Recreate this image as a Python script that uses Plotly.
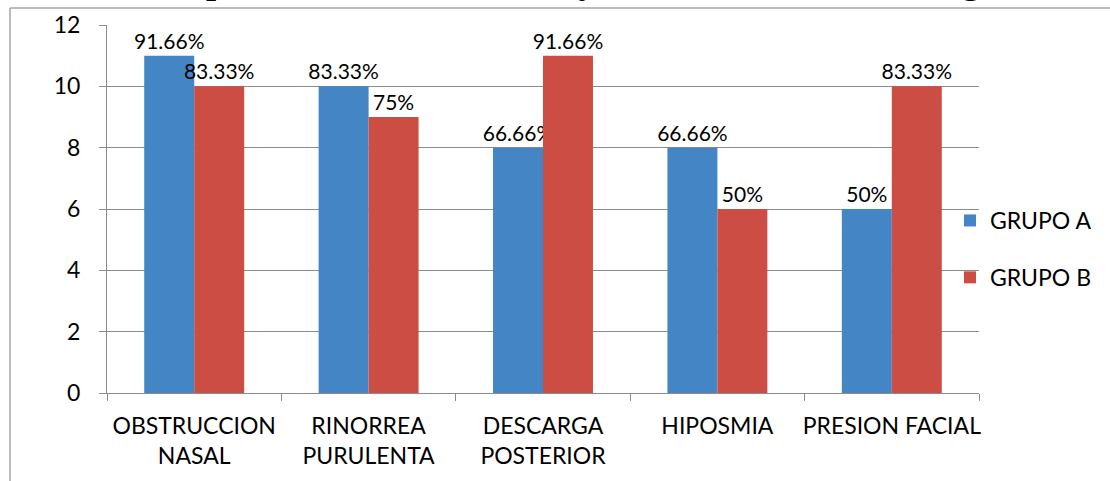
import plotly.graph_objects as go

categories = ["OBSTRUCCION<br>NASAL", "RINORREA<br>PURULENTA", "DESCARGA<br>POSTERIOR", "HIPOSMIA", "PRESION FACIAL"]
grupo_a = [11, 10, 8, 8, 6]
grupo_b = [10, 9, 11, 6, 10]
labels_a = ["91.66%", "83.33%", "66.66%", "66.66%", "50%"]
labels_b = ["83.33%", "75%", "91.66%", "50%", "83.33%"]
title_text = "Gráfico: Comparativo de criterios Mayores al momento del diagnóstico"

W, H = 1110, 481
L, R, T, B = 107, 131, 25, 88
pw, ph = W - L - R, H - T - B

def px_x(x):
    return (x - L) / pw

def px_y(y):
    return (H - B - y) / ph

FONT = "Lato"
fig = go.Figure()
fig.add_trace(go.Bar(x=categories, y=grupo_a, name="GRUPO A", legendgroup="a",
                     marker=dict(color="#4485c6", line=dict(width=0)),
                     text=labels_a, textposition="outside", cliponaxis=False,
                     constraintext="none",
                     textfont=dict(family=FONT, size=21, color="#000000")))
fig.add_trace(go.Bar(x=categories, y=grupo_b, name="GRUPO B", legendgroup="b",
                     marker=dict(color="#cb4d44", line=dict(width=0)),
                     text=labels_b, textposition="outside", cliponaxis=False,
                     constraintext="none",
                     textfont=dict(family=FONT, size=21, color="#000000")))

fig.update_layout(
    width=W, height=H,
    margin=dict(l=L, r=R, t=T, b=B, autoexpand=False),
    paper_bgcolor="white", plot_bgcolor="white",
    barmode="group", bargap=0.427, bargroupgap=0,
    font=dict(family=FONT, size=21, color="#000000"),
    showlegend=True,
    legend=dict(x=px_x(950), y=px_y(199), xanchor="left", yanchor="top",
                font=dict(family=FONT, size=23, color="#000000"),
                tracegroupgap=24, bgcolor="rgba(0,0,0,0)", itemwidth=30),
)
fig.update_yaxes(range=[0, 12], dtick=2, showgrid=True, gridcolor="#8c8c8c", gridwidth=1,
                 showline=True, linecolor="#8c8c8c", linewidth=1,
                 ticks="outside", ticklen=7, tickcolor="#8c8c8c",
                 tickfont=dict(family=FONT, size=23, color="#000000"),
                 ticklabelstandoff=14, zeroline=False)
fig.update_xaxes(showline=True, linecolor="#8c8c8c", linewidth=1,
                 ticks="outside", ticklen=7, tickcolor="#8c8c8c", tickson="boundaries",
                 tickangle=0,
                 tickfont=dict(family=FONT, size=23, color="#000000"),
                 ticklabelstandoff=12)

# outer frame
fig.add_shape(type="line", xref="paper", yref="paper",
              x0=px_x(10), x1=px_x(W + 5), y0=px_y(8), y1=px_y(8),
              line=dict(color="#a6a6a6", width=1.5))
fig.add_shape(type="line", xref="paper", yref="paper",
              x0=px_x(10), x1=px_x(10), y0=px_y(8), y1=px_y(H + 5),
              line=dict(color="#a6a6a6", width=1.5))

fig.add_annotation(text=title_text, xref="paper", yref="paper",
                   x=px_x(540), y=px_y(3), xanchor="center", yanchor="bottom",
                   showarrow=False,
                   font=dict(family="Liberation Serif", size=36, color="#000000", weight="bold"))

fig.write_html("out.html")
